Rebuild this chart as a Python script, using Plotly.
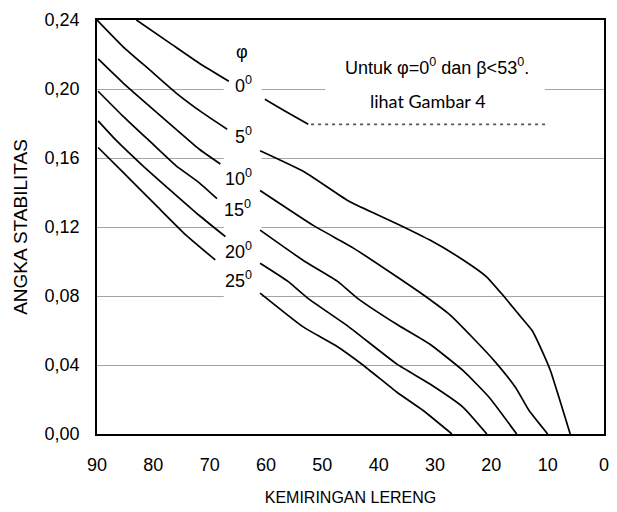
import plotly.graph_objects as go

# ---------------- data ----------------
phi0_left_x = [83.0, 76.6, 71.9, 66.6]
phi0_left_y = [0.240, 0.2256, 0.2151, 0.2045]
phi0_right_x = [60.2, 56.5, 52.5]
phi0_right_y = [0.194, 0.187, 0.1795]
phi0_dot_x = [52.0, 10.3]
phi0_dot_y = [0.1795, 0.1795]

phi5_left_x = [90.0, 85.4, 80.7, 76.0, 71.3, 66.9]
phi5_left_y = [0.240, 0.2246, 0.2112, 0.1978, 0.1863, 0.1767]
phi5_right_x = [61.05, 53.1, 45.5, 40.5, 36.5, 30.9, 25.0, 20.9, 18.0, 15.1, 12.7, 11.0, 9.5, 8.0, 6.0]
phi5_right_y = [0.1642, 0.1518, 0.1354, 0.1275, 0.1215, 0.1124, 0.1009, 0.0913, 0.0807, 0.0692,
                0.0597, 0.0482, 0.0367, 0.0213, 0.0]

phi10_left_x = [89.8, 85.4, 80.7, 76.0, 71.9, 68.1]
phi10_left_y = [0.2174, 0.2036, 0.1901, 0.1767, 0.1652, 0.1565]
phi10_right_x = [61.05, 51.4, 44.4, 37.3, 32.1, 27.4, 23.3, 19.2, 15.7, 13.3, 10.0]
phi10_right_y = [0.1412, 0.1205, 0.1076, 0.0923, 0.0807, 0.0692, 0.0558, 0.0414, 0.027, 0.0136, 0.0]

phi15_left_x = [89.8, 85.4, 80.7, 76.0, 72.0, 68.7]
phi15_left_y = [0.1987, 0.1843, 0.1699, 0.1556, 0.146, 0.1364]
phi15_right_x = [61.05, 53.1, 47.3, 43.8, 36.5, 30.9, 25.0, 20.4, 15.5]
phi15_right_y = [0.1182, 0.1000, 0.0885, 0.0788, 0.063, 0.052, 0.0367, 0.0213, 0.0]

phi20_left_x = [89.8, 86.8, 81.9, 76.6, 71.9, 67.2]
phi20_left_y = [0.1815, 0.1709, 0.1556, 0.1402, 0.1268, 0.1144]
phi20_right_x = [61.05, 56.1, 52.6, 45.3, 36.75, 30.9, 25.0, 20.8]
phi20_right_y = [0.0990, 0.0885, 0.0788, 0.0621, 0.0405, 0.029, 0.0155, 0.0]

phi25_left_x = [89.8, 85.4, 79.5, 74.2, 69.0]
phi25_left_y = [0.1661, 0.1518, 0.1325, 0.1153, 0.1009]
phi25_right_x = [61.05, 53.4, 47.5, 42.8, 36.75, 32.1, 27.0]
phi25_right_y = [0.0817, 0.0621, 0.051, 0.040, 0.0242, 0.0136, 0.0]

curve_labels = ["0", "5", "10", "15", "20", "25"]
label_x = [64.0, 64.0, 64.9, 65.0, 64.9, 64.9]
label_y = [0.2026, 0.1728, 0.1489, 0.1306, 0.1066, 0.0894]

x_ticks = [90, 80, 70, 60, 50, 40, 30, 20, 10, 0]
y_ticks = [0.0, 0.04, 0.08, 0.12, 0.16, 0.20, 0.24]
y_ticktext = ["0,00", "0,04", "0,08", "0,12", "0,16", "0,20", "0,24"]

# ---------------- figure ----------------
fig = go.Figure()

segments = [
    (phi0_left_x, phi0_left_y, phi0_right_x, phi0_right_y),
    (phi5_left_x, phi5_left_y, phi5_right_x, phi5_right_y),
    (phi10_left_x, phi10_left_y, phi10_right_x, phi10_right_y),
    (phi15_left_x, phi15_left_y, phi15_right_x, phi15_right_y),
    (phi20_left_x, phi20_left_y, phi20_right_x, phi20_right_y),
    (phi25_left_x, phi25_left_y, phi25_right_x, phi25_right_y),
]
for lx, ly, rx, ry in segments:
    for sx, sy in ((lx, ly), (rx, ry)):
        fig.add_trace(go.Scatter(
            x=sx, y=sy, mode="lines",
            line=dict(color="black", width=1.7, shape="spline", smoothing=0.45),
            showlegend=False, hoverinfo="skip"))

fig.add_trace(go.Scatter(
    x=phi0_dot_x, y=phi0_dot_y, mode="lines",
    line=dict(color="#555555", width=1.6, dash="3px,4px"),
    showlegend=False, hoverinfo="skip"))

TF = "Arial, Liberation Sans, sans-serif"

# white masks that break the gridlines behind the label column and note
fig.add_shape(type="rect", xref="x", yref="y", x0=67.5, x1=60.8, y0=0.075, y1=0.206,
              fillcolor="white", line=dict(width=0), layer="between")
fig.add_shape(type="rect", xref="x", yref="y", x0=49.5, x1=10.5, y0=0.196, y1=0.204,
              fillcolor="white", line=dict(width=0), layer="between")

fig.add_annotation(x=64.3, y=0.2217, text="φ", showarrow=False,
                   font=dict(family=TF, size=18, color="black"))
for t, lx, ly in zip(curve_labels, label_x, label_y):
    fig.add_annotation(x=lx, y=ly, text=t + "<sup>0</sup>", showarrow=False,
                       font=dict(family=TF, size=18, color="black"))

fig.add_annotation(x=29.6, y=0.2130, text="Untuk φ=0<sup>0</sup> dan β&lt;53<sup>0</sup>.",
                   showarrow=False, font=dict(family=TF, size=18, color="black"))
fig.add_annotation(x=31.3, y=0.1930, text="lihat Gambar 4",
                   showarrow=False, font=dict(family="Lato, sans-serif", size=18, color="black"))

fig.update_layout(
    width=617, height=512,
    margin=dict(l=97, r=8, t=20, b=75),
    plot_bgcolor="white", paper_bgcolor="white",
    font=dict(family=TF, color="black"),
    xaxis=dict(
        range=[90, 0], tickvals=x_ticks, ticktext=[str(v) for v in x_ticks],
        showgrid=False, zeroline=False, showline=True, mirror=True,
        linecolor="black", linewidth=1.5, ticks="", ticklabelstandoff=14,
        tickfont=dict(family=TF, size=18, color="black"),
        title=dict(text="KEMIRINGAN LERENG", standoff=17,
                   font=dict(family=TF, size=16, color="black")),
    ),
    yaxis=dict(
        range=[0, 0.24], tickvals=y_ticks, ticktext=y_ticktext,
        showgrid=True, gridcolor="#a4a4a4", gridwidth=1,
        zeroline=False, showline=True, mirror=True,
        linecolor="black", linewidth=1.5, ticks="", ticklabelstandoff=12,
        tickfont=dict(family=TF, size=18, color="black"),
        title=dict(text="ANGKA STABILITAS", standoff=12,
                   font=dict(family=TF, size=19, color="black")),
    ),
)

fig.write_html("out.html")
